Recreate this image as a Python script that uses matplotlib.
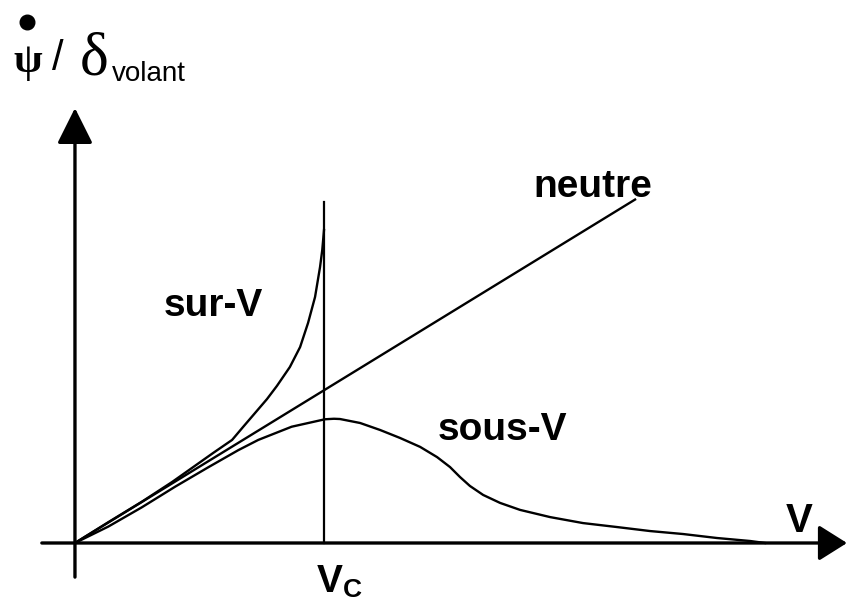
import matplotlib
matplotlib.use("Agg")
import matplotlib.pyplot as plt

# ---- data (V in units of Vc, yaw-rate gain in same drawing units) ----
neutre_v = [0.0, 2.253]
neutre_g = [0.0, 1.382]

sur_v = [0.0, 0.133, 0.269, 0.390, 0.554, 0.631, 0.675, 0.723, 0.771, 0.811, 0.863,
         0.904, 0.936, 0.964, 0.984, 0.993, 1.0]
sur_g = [0.0, 0.083, 0.166, 0.245, 0.361, 0.414, 0.466, 0.522, 0.578, 0.631, 0.707,
         0.787, 0.884, 0.988, 1.108, 1.177, 1.257]

sous_v = [0.0, 0.134, 0.268, 0.402, 0.535, 0.656, 0.736, 0.870, 1.004, 1.040, 1.064,
          1.145, 1.225, 1.305, 1.386, 1.454, 1.506, 1.546, 1.586, 1.639, 1.707, 1.787,
          1.908, 2.040, 2.177, 2.309, 2.442, 2.578, 2.711, 2.771]
sous_g = [0.0, 0.066, 0.143, 0.226, 0.304, 0.373, 0.414, 0.467, 0.497, 0.499, 0.498,
          0.482, 0.454, 0.422, 0.386, 0.345, 0.305, 0.265, 0.229, 0.193, 0.161, 0.133,
          0.104, 0.080, 0.064, 0.048, 0.036, 0.020, 0.008, 0.0]

vc = 1.0
vc_top = 1.369

labels = {"neutre": (2.080, 1.390), "sur-V": (0.554, 0.912), "sous-V": (1.717, 0.414)}

# ---- figure ----
fig = plt.figure(figsize=(8.47, 6.02), dpi=100)
ax = fig.add_axes([0, 0, 1, 1])
ax.set_xlim(-0.301, 3.100)
ax.set_ylim(-0.237, 2.181)
ax.axis("off")

lw_curve = 1.7
ax.plot(neutre_v, neutre_g, color="black", lw=lw_curve, solid_capstyle="butt")
ax.plot(sur_v, sur_g, color="black", lw=lw_curve, solid_joinstyle="round")
ax.plot(sous_v, sous_g, color="black", lw=lw_curve, solid_joinstyle="round")
ax.plot([vc, vc], [0, vc_top], color="black", lw=1.6)

# axes with arrows
ax.annotate("", xy=(3.100, 0), xytext=(-0.133, 0),
            arrowprops=dict(arrowstyle="-|>,head_length=1.75,head_width=1.1", color="black",
                            lw=2.4, shrinkA=0, shrinkB=0, mutation_scale=10))
ax.annotate("", xy=(0, 1.747), xytext=(0, -0.137),
            arrowprops=dict(arrowstyle="-|>,head_length=2.2,head_width=1.1", color="black",
                            lw=2.4, shrinkA=0, shrinkB=0, mutation_scale=10))

bold = dict(family="Liberation Sans", weight="bold", color="black")
for txt, (x, y) in labels.items():
    ax.text(x, y, txt, fontsize=28, ha="center", va="baseline", **bold)

ax.text(2.908, 0.044, "V", fontsize=29, ha="center", va="baseline", **bold)
ax.text(0.972, -0.197, "V", fontsize=28, ha="left", va="baseline", **bold)
ax.text(1.076, -0.215, "C", fontsize=19, ha="left", va="baseline", **bold)

# y-axis label: psi-dot / delta_volant (time-derivative dot drawn as a marker)
ax.text(-0.189, 1.932, "ψ", fontsize=30, ha="center", va="center",
        family="Liberation Serif", weight="bold", color="black")
ax.plot([-0.193], [2.092], marker="o", markersize=10.5, color="black", clip_on=False)
ax.text(-0.068, 1.945, "/", fontsize=30, ha="center", va="center",
        family="Liberation Sans", color="black")
ax.text(0.076, 1.880, "δ", fontsize=44, ha="center", va="baseline",
        family="Liberation Serif", color="black")
ax.text(0.149, 1.855, "volant", fontsize=20, ha="left", va="baseline",
        family="Liberation Sans", color="black")

fig.savefig("out.png", dpi=100)
